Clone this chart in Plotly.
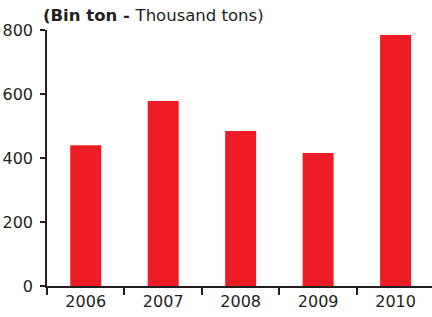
import plotly.graph_objects as go

years = ["2006", "2007", "2008", "2009", "2010"]
values = [440, 578, 484, 416, 784]
y_ticks = [0, 200, 400, 600, 800]

font_family = "DejaVu Sans"
text_color = "#231F20"
bar_color = "#EE1C25"

fig = go.Figure()
fig.add_trace(go.Bar(x=years, y=values, marker_color=bar_color, marker_line_width=0, width=0.4))

fig.update_layout(
    width=432, height=317,
    margin=dict(l=47, r=0, t=30, b=31),
    paper_bgcolor="white", plot_bgcolor="white",
    showlegend=False,
    font=dict(family=font_family, size=16, color=text_color),
    xaxis=dict(
        type="category", range=[-0.5, 4.47],
        showline=True, linecolor=text_color, linewidth=1.5,
        ticks="outside", tickson="boundaries", ticklen=7, tickwidth=1.5, tickcolor=text_color,
        showgrid=False, zeroline=False,
    ),
    yaxis=dict(
        range=[0, 800], tickvals=y_ticks,
        showline=True, linecolor=text_color, linewidth=1.5,
        ticks="outside", ticklen=5, tickwidth=1.5, tickcolor=text_color,
        showgrid=False, zeroline=False, ticklabelstandoff=4,
    ),
    annotations=[dict(
        text="<b>(Bin ton - </b>Thousand tons)",
        xref="paper", yref="paper", x=-0.015, y=1.0, xanchor="left", yanchor="bottom",
        yshift=3, showarrow=False, font=dict(family=font_family, size=16.5, color=text_color),
    )],
)

fig.write_html(
    "out.html",
    config={"displayModeBar": False},
    post_script="document.body.style.margin='0';document.body.style.overflow='hidden';",
)
